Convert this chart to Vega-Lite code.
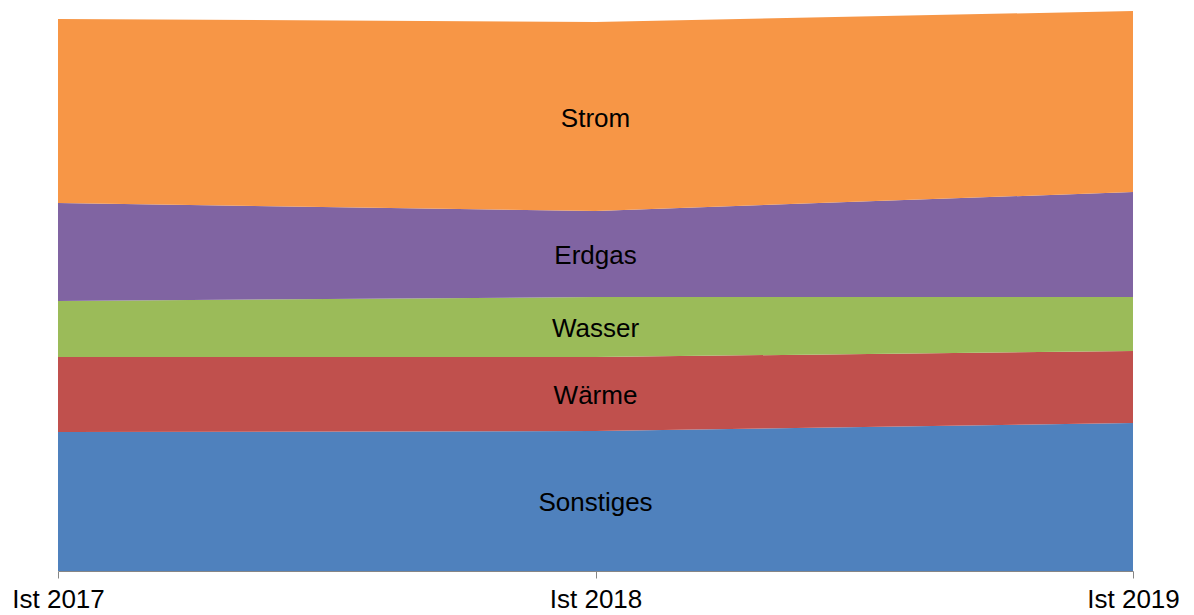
{
  "$schema": "https://vega.github.io/schema/vega-lite/v6.json",
  "width": 1075,
  "height": 560,
  "autosize": {"type": "none"},
  "padding": {"left": 58, "top": 11, "right": 61, "bottom": 44},
  "background": "white",
  "config": {"view": {"stroke": null}, "font": "Liberation Sans"},
  "data": {
    "values": [
      {"Jahr": "Ist 2017", "Kategorie": "Sonstiges", "rang": 1, "Wert": 139},
      {"Jahr": "Ist 2017", "Kategorie": "Wärme", "rang": 2, "Wert": 75},
      {"Jahr": "Ist 2017", "Kategorie": "Wasser", "rang": 3, "Wert": 56},
      {"Jahr": "Ist 2017", "Kategorie": "Erdgas", "rang": 4, "Wert": 98},
      {"Jahr": "Ist 2017", "Kategorie": "Strom", "rang": 5, "Wert": 184},
      {"Jahr": "Ist 2018", "Kategorie": "Sonstiges", "rang": 1, "Wert": 140},
      {"Jahr": "Ist 2018", "Kategorie": "Wärme", "rang": 2, "Wert": 74},
      {"Jahr": "Ist 2018", "Kategorie": "Wasser", "rang": 3, "Wert": 60},
      {"Jahr": "Ist 2018", "Kategorie": "Erdgas", "rang": 4, "Wert": 86},
      {"Jahr": "Ist 2018", "Kategorie": "Strom", "rang": 5, "Wert": 189},
      {"Jahr": "Ist 2019", "Kategorie": "Sonstiges", "rang": 1, "Wert": 148},
      {"Jahr": "Ist 2019", "Kategorie": "Wärme", "rang": 2, "Wert": 72},
      {"Jahr": "Ist 2019", "Kategorie": "Wasser", "rang": 3, "Wert": 54},
      {"Jahr": "Ist 2019", "Kategorie": "Erdgas", "rang": 4, "Wert": 105},
      {"Jahr": "Ist 2019", "Kategorie": "Strom", "rang": 5, "Wert": 181}
    ]
  },
  "layer": [
    {
      "mark": {"type": "area", "interpolate": "linear"},
      "encoding": {
        "x": {
          "field": "Jahr", "type": "ordinal",
          "scale": {"type": "point", "padding": 0},
          "axis": {
            "title": null, "labelAngle": 0, "labelFontSize": 26, "labelColor": "#000000",
            "labelFont": "Liberation Sans", "domainColor": "#868686", "tickColor": "#868686",
            "tickSize": 7, "labelPadding": 8, "grid": false, "domainWidth": 1, "tickWidth": 1
          }
        },
        "y": {
          "field": "Wert", "type": "quantitative", "stack": "zero",
          "scale": {"domain": [0, 560], "nice": false, "zero": true},
          "axis": null
        },
        "color": {
          "field": "Kategorie", "type": "nominal",
          "scale": {
            "domain": ["Sonstiges", "Wärme", "Wasser", "Erdgas", "Strom"],
            "range": ["#4F81BD", "#C0504D", "#9BBB59", "#8064A2", "#F79646"]
          },
          "legend": null
        },
        "order": {"field": "rang", "type": "quantitative", "sort": "ascending"}
      }
    },
    {
      "transform": [
        {"filter": "datum.Jahr === 'Ist 2018'"},
        {"stack": "Wert", "groupby": ["Jahr"], "sort": [{"field": "rang", "order": "ascending"}], "as": ["unten", "oben"]},
        {"calculate": "(datum.unten + datum.oben) / 2", "as": "mitte"}
      ],
      "mark": {"type": "text", "fontSize": 26, "font": "Liberation Sans", "color": "#000000", "baseline": "middle", "align": "center", "dy": 2},
      "encoding": {
        "x": {"field": "Jahr", "type": "ordinal"},
        "y": {"field": "mitte", "type": "quantitative"},
        "text": {"field": "Kategorie", "type": "nominal"}
      }
    }
  ]
}
